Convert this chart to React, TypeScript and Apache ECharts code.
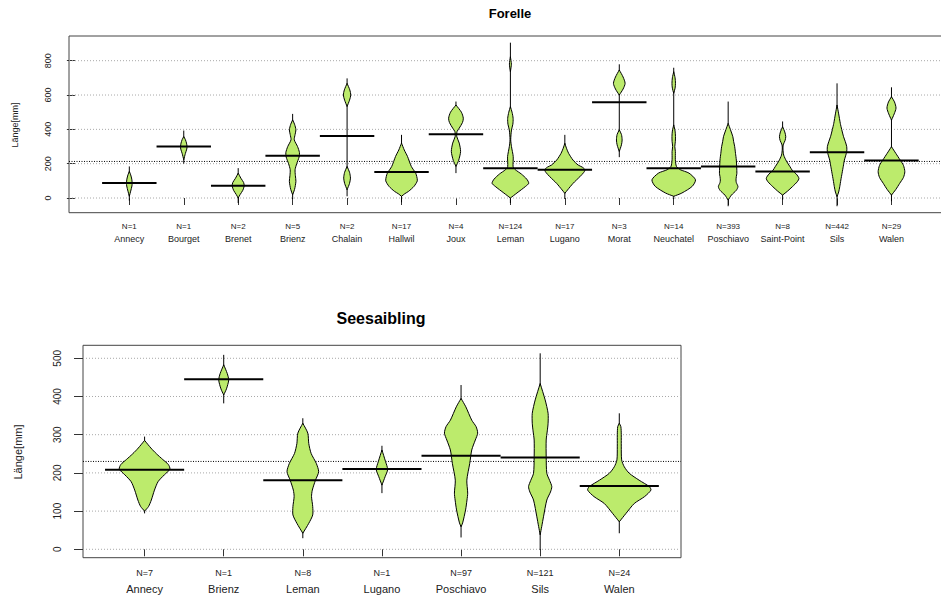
import { useEffect, useRef } from 'react';
import * as echarts from 'echarts';

const FONT = '"Liberation Sans", Arial, sans-serif';
const BEAN_FILL = '#BCEB6C';

// ---------- Forelle (top) ----------
const topLakes = ['Annecy', 'Bourget', 'Brenet', 'Brienz', 'Chalain', 'Hallwil', 'Joux', 'Leman', 'Lugano', 'Morat', 'Neuchatel', 'Poschiavo', 'Saint-Point', 'Sils', 'Walen'];
const topCounts = [1, 1, 2, 5, 2, 17, 4, 124, 17, 3, 14, 393, 8, 442, 29];
const topMeans = [87, 300, 72, 246, 362, 151, 372, 174, 165, 558, 174, 184, 155, 267, 219];
const topRanges = [[-15, 184], [200, 393], [-29, 174], [-6, 490], [10, 697], [-25, 368], [145, 562], [-29, 905], [-6, 368], [238, 779], [-6, 759], [-48, 562], [-10, 446], [-48, 668], [-19, 645]];
// density profiles: [length, half-width in category units]
const topDensity: number[][][] = [
  [[10, 0], [40, 0.025], [70, 0.048], [87, 0.052], [110, 0.045], [135, 0.025], [155, 0]],
  [[223, 0], [260, 0.03], [285, 0.055], [300, 0.06], [320, 0.05], [340, 0.03], [358, 0]],
  [[0, 0], [20, 0.035], [45, 0.085], [70, 0.11], [90, 0.1], [115, 0.05], [145, 0]],
  [[19, 0], [50, 0.035], [97, 0.06], [130, 0.05], [165, 0.045], [200, 0.075], [240, 0.12], [265, 0.125], [300, 0.09], [339, 0.03], [370, 0.045], [397, 0.06], [430, 0.035], [455, 0]],
  [[48, 0], [85, 0.045], [116, 0.062], [150, 0.045], [184, 0], [533, 0], [570, 0.045], [600, 0.068], [630, 0.05], [668, 0]],
  [[10, 0], [25, 0.06], [39, 0.13], [68, 0.23], [100, 0.29], [125, 0.28], [145, 0.26], [184, 0.18], [242, 0.11], [280, 0.05], [320, 0]],
  [[184, 0], [220, 0.05], [271, 0.085], [320, 0.06], [358, 0.015], [387, 0.02], [407, 0.06], [440, 0.12], [465, 0.135], [500, 0.1], [542, 0]],
  [[0, 0], [29, 0.12], [68, 0.28], [86, 0.337], [110, 0.3], [140, 0.2], [165, 0.09], [182, 0.05], [241, 0.052], [299, 0.02], [340, 0.006], [396, 0.02], [430, 0.045], [464, 0.05], [500, 0.03], [532, 0], [736, 0], [780, 0.018], [823, 0]],
  [[27, 0], [47, 0.05], [85, 0.15], [124, 0.276], [150, 0.35], [165, 0.37], [180, 0.32], [192, 0.245], [221, 0.15], [260, 0.07], [290, 0.03], [319, 0]],
  [[271, 0], [310, 0.04], [338, 0.052], [370, 0.04], [397, 0], [600, 0], [635, 0.07], [668, 0.107], [705, 0.07], [746, 0]],
  [[10, 0], [29, 0.15], [68, 0.34], [106, 0.4], [145, 0.28], [165, 0.12], [184, 0.05], [223, 0.03], [271, 0.03], [300, 0.02], [330, 0.03], [358, 0.032], [390, 0.025], [426, 0], [610, 0], [640, 0.025], [668, 0.032], [700, 0.025], [736, 0]],
  [[-12, 0], [17, 0.06], [45, 0.15], [66, 0.18], [90, 0.15], [105, 0.144], [125, 0.15], [144, 0.16], [221, 0.15], [260, 0.135], [299, 0.12], [330, 0.1], [357, 0.086], [400, 0.04], [435, 0]],
  [[17, 0], [40, 0.09], [66, 0.18], [95, 0.27], [115, 0.3], [140, 0.25], [160, 0.18], [182, 0.137], [215, 0.07], [250, 0.02], [285, 0.006], [309, 0.01], [335, 0.045], [357, 0.058], [385, 0.04], [415, 0]],
  [[8, 0], [35, 0.03], [66, 0.05], [105, 0.07], [144, 0.092], [185, 0.115], [221, 0.135], [270, 0.178], [299, 0.178], [330, 0.15], [357, 0.12], [400, 0.085], [435, 0.06], [490, 0.03], [542, 0]],
  [[17, 0], [50, 0.08], [85, 0.15], [120, 0.22], [153, 0.245], [190, 0.22], [221, 0.16], [260, 0.08], [299, 0], [454, 0], [490, 0.05], [524, 0.083], [560, 0.055], [590, 0]],
];
const topOverallMean = 213;
const topTicks = [0, 200, 400, 600, 800];

// ---------- Seesaibling (bottom) ----------
const botLakes = ['Annecy', 'Brienz', 'Leman', 'Lugano', 'Poschiavo', 'Sils', 'Walen'];
const botCounts = [7, 1, 8, 1, 97, 121, 24];
const botMeans = [208, 445, 181, 210, 245, 240, 166];
const botRanges = [[94, 295], [382, 509], [29, 343], [147, 271], [31, 430], [-2, 513], [42, 356]];
const botDensity: number[][][] = [
  [[100, 0], [112, 0.05], [129, 0.085], [155, 0.125], [177, 0.17], [195, 0.25], [210, 0.32], [222, 0.3], [235, 0.23], [250, 0.15], [265, 0.08], [285, 0]],
  [[404, 0], [420, 0.035], [443, 0.063], [460, 0.045], [483, 0]],
  [[42, 0], [68, 0.075], [90, 0.125], [112, 0.125], [138, 0.11], [155, 0.12], [181, 0.16], [203, 0.2], [225, 0.17], [251, 0.105], [277, 0.075], [304, 0.063], [330, 0]],
  [[168, 0], [190, 0.04], [209, 0.072], [230, 0.045], [260, 0]],
  [[59, 0], [69, 0.02], [103, 0.057], [129, 0.075], [147, 0.084], [181, 0.073], [225, 0.11], [260, 0.135], [286, 0.18], [304, 0.21], [321, 0.19], [338, 0.135], [373, 0.06], [395, 0]],
  [[38, 0], [60, 0.02], [85, 0.042], [129, 0.084], [150, 0.13], [164, 0.147], [180, 0.12], [199, 0.084], [242, 0.076], [286, 0.076], [310, 0.09], [330, 0.1], [356, 0.1], [391, 0.063], [434, 0]],
  [[72, 0], [94, 0.085], [120, 0.19], [138, 0.32], [155, 0.4], [164, 0.38], [181, 0.25], [199, 0.126], [216, 0.063], [234, 0.03], [270, 0.025], [300, 0.025], [321, 0.02], [330, 0]],
];
const botOverallMean = 230;
const botTicks = [0, 100, 200, 300, 400, 500];

function beanRenderer(density: number[][][], ranges: number[][], means: number[]) {
  return (params: any, api: any) => {
    const i = params.dataIndex;
    const pos = api.value(0);
    const unit = api.size([1, 0])[0];
    const children: any[] = [];
    const pLo = api.coord([pos, ranges[i][0]]);
    const pHi = api.coord([pos, ranges[i][1]]);
    const cx = pLo[0];
    children.push({
      type: 'line',
      shape: { x1: cx, y1: pLo[1], x2: cx, y2: pHi[1] },
      style: { stroke: '#000', lineWidth: 1 },
    });
    const prof = density[i];
    let seg: number[][] = [];
    const pushSeg = (s: number[][]) => {
      const right = s.map(([y, w]) => [cx + w * unit, api.coord([pos, y])[1]]);
      const left = s.slice().reverse().map(([y, w]) => [cx - w * unit, api.coord([pos, y])[1]]);
      children.push({
        type: 'polygon',
        shape: { points: right.concat(left), smooth: 0.25 },
        style: { fill: BEAN_FILL, stroke: '#000', lineWidth: 1 },
      });
    };
    for (const pt of prof) {
      if (pt[1] === 0) {
        if (seg.length > 1) pushSeg(seg.concat([pt]));
        seg = [pt];
      } else {
        seg.push(pt);
      }
    }
    const mL = api.coord([pos - 0.5, means[i]]);
    const mR = api.coord([pos + 0.5, means[i]]);
    children.push({
      type: 'line',
      shape: { x1: mL[0], y1: mL[1], x2: mR[0], y2: mR[1] },
      style: { stroke: '#000', lineWidth: 2 },
    });
    return { type: 'group', children };
  };
}

function hLineRenderer(color: string, dash: number[]) {
  return (params: any, api: any) => {
    const cs = params.coordSys;
    const y = api.coord([0, api.value(0)])[1];
    return {
      type: 'line',
      shape: { x1: cs.x, y1: y, x2: cs.x + cs.width, y2: y },
      style: { stroke: color, lineWidth: 1, lineDash: dash },
    };
  };
}

function xAxisFor(gridIndex: number, min: number, max: number, lakes: string[], counts: number[], nSize: number, cSize: number, nLH: number, cLH: number, margin: number, tickLen: number) {
  const positions = lakes.map((_, i) => i + 1);
  return {
    gridIndex,
    type: 'value',
    min,
    max,
    splitLine: { show: false },
    axisLine: { show: false },
    axisTick: { show: true, customValues: positions, length: tickLen, lineStyle: { color: '#333', width: 1 } },
    axisLabel: {
      customValues: positions,
      margin,
      formatter: (v: number) => {
        const i = Math.round(v) - 1;
        return `{n|N=${counts[i]}}\n{c|${lakes[i]}}`;
      },
      rich: {
        n: { fontSize: nSize, lineHeight: nLH, fontFamily: FONT, color: '#222' },
        c: { fontSize: cSize, lineHeight: cLH, fontFamily: FONT, color: '#222' },
      },
    },
  };
}

function yAxisFor(gridIndex: number, min: number, max: number, ticks: number[], fontSize: number, margin: number, tickLen: number) {
  return {
    gridIndex,
    type: 'value',
    min,
    max,
    splitLine: { show: false },
    axisLine: { show: false },
    axisTick: { show: true, customValues: ticks, length: tickLen, lineStyle: { color: '#333', width: 1 } },
    axisLabel: {
      customValues: ticks,
      rotate: 90,
      margin,
      fontSize,
      lineHeight: fontSize,
      fontFamily: FONT,
      color: '#222',
    },
  };
}

export default function App() {
  const ref = useRef<HTMLDivElement>(null);
  useEffect(() => {
    if (!ref.current) return;
    const chart = echarts.init(ref.current, undefined, { renderer: 'svg' });
    const option: any = {
      animation: false,
      backgroundColor: '#fff',
      title: [
        { text: 'Forelle', left: 510, top: 7, padding: 0, textAlign: 'center', textStyle: { fontSize: 13, fontWeight: 'bold', fontFamily: FONT, color: '#000' } },
        { text: 'Seesaibling', left: 381, top: 310, padding: 0, textAlign: 'center', textStyle: { fontSize: 16, fontWeight: 'bold', fontFamily: FONT, color: '#000' } },
      ],
      grid: [
        { left: 69, top: 36, width: 884, height: 176.7, outerBoundsMode: 'none', containLabel: false, show: true, borderColor: '#444', borderWidth: 1, backgroundColor: 'transparent' },
        { left: 83, top: 345.3, width: 598, height: 212.4, outerBoundsMode: 'none', containLabel: false, show: true, borderColor: '#444', borderWidth: 1, backgroundColor: 'transparent' },
      ],
      xAxis: [
        xAxisFor(0, -0.108, 16.13, topLakes, topCounts, 8, 9, 12, 13, 8, 7),
        xAxisFor(1, 0.2215, 7.78, botLakes, botCounts, 9, 11, 14, 17, 8.5, 7),
      ],
      yAxis: [
        yAxisFor(0, -85.6, 943.9, topTicks, 9, 17, 8),
        yAxisFor(1, -22, 534, botTicks, 10, 21, 9),
      ],
      graphic: [
        { type: 'text', x: 15, y: 125, rotation: Math.PI / 2, style: { text: 'Länge[mm]', fontSize: 9, fontFamily: FONT, fill: '#222', align: 'center', verticalAlign: 'middle' } },
        { type: 'text', x: 18, y: 452, rotation: Math.PI / 2, style: { text: 'Länge[mm]', fontSize: 11, fontFamily: FONT, fill: '#222', align: 'center', verticalAlign: 'middle' } },
      ],
      series: [
        { type: 'custom', xAxisIndex: 0, yAxisIndex: 0, z: 1, silent: true, data: topTicks.map((v) => [v]), encode: { y: 0 }, renderItem: hLineRenderer('#A8A8A8', [1, 2]) },
        { type: 'custom', xAxisIndex: 0, yAxisIndex: 0, z: 2, silent: true, data: [[topOverallMean]], encode: { y: 0 }, renderItem: hLineRenderer('#000', [1, 1.5]) },
        { type: 'custom', xAxisIndex: 0, yAxisIndex: 0, z: 3, silent: true, clip: true, data: topLakes.map((_, i) => [i + 1, topMeans[i]]), renderItem: beanRenderer(topDensity, topRanges, topMeans) },
        { type: 'custom', xAxisIndex: 1, yAxisIndex: 1, z: 1, silent: true, data: botTicks.map((v) => [v]), encode: { y: 0 }, renderItem: hLineRenderer('#A8A8A8', [1, 2]) },
        { type: 'custom', xAxisIndex: 1, yAxisIndex: 1, z: 2, silent: true, data: [[botOverallMean]], encode: { y: 0 }, renderItem: hLineRenderer('#000', [1, 1.5]) },
        { type: 'custom', xAxisIndex: 1, yAxisIndex: 1, z: 3, silent: true, clip: true, data: botLakes.map((_, i) => [i + 1, botMeans[i]]), renderItem: beanRenderer(botDensity, botRanges, botMeans) },
      ],
    };
    chart.setOption(option);
    return () => chart.dispose();
  }, []);
  return <div ref={ref} style={{ position: 'absolute', left: 0, top: 0, width: 941, height: 599 }} />;
}
